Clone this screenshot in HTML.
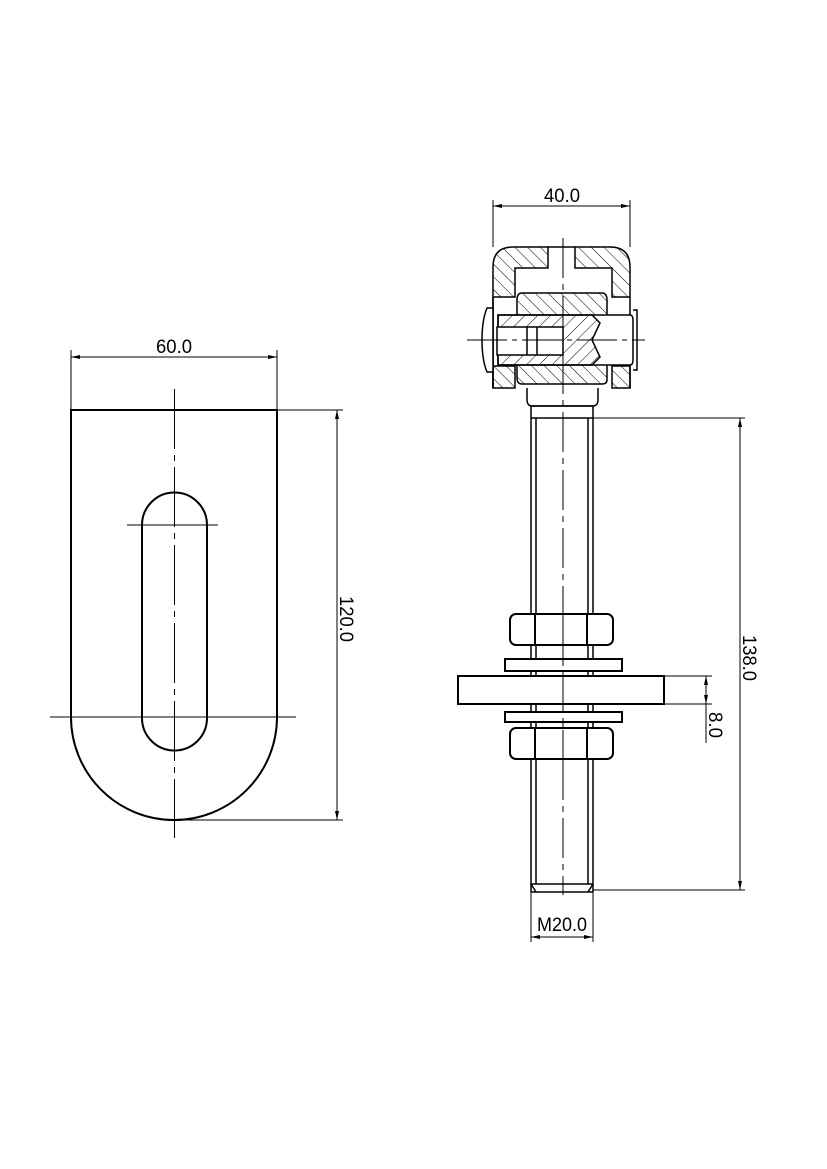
<!DOCTYPE html>
<html><head><meta charset="utf-8"><style>
html,body{margin:0;padding:0;background:#fff;}
svg{display:block;}
text{font-family:"Liberation Sans Narrow","Liberation Sans",sans-serif;font-size:19px;fill:#000;}
</style></head><body>
<svg width="827" height="1169" viewBox="0 0 827 1169" xmlns="http://www.w3.org/2000/svg">
<defs>
<pattern id="h" patternUnits="userSpaceOnUse" width="9" height="9" patternTransform="rotate(-45)">
<line x1="0" y1="0" x2="0" y2="9" stroke="#000" stroke-width="1"/>
</pattern>
<pattern id="h2" patternUnits="userSpaceOnUse" width="9" height="9" patternTransform="rotate(45)">
<line x1="0" y1="0" x2="0" y2="9" stroke="#000" stroke-width="1"/>
</pattern>
</defs>

<!-- LEFT VIEW -->
<g fill="none" stroke="#000">
<path d="M71 410 H277 V717 A103 103 0 0 1 71 717 Z" stroke-width="2"/>
<path d="M142 525 A32.5 32.5 0 0 1 207 525 V718 A32.5 32.5 0 0 1 142 718 Z" stroke-width="2"/>
<line x1="174.5" y1="389" x2="174.5" y2="838" stroke-width="1" stroke-dasharray="60,6,6,6"/>
<line x1="50" y1="717" x2="296" y2="717" stroke-width="1"/>
<line x1="127" y1="525" x2="218" y2="525" stroke-width="1"/>
<line x1="71" y1="350" x2="71" y2="410" stroke-width="1"/>
<line x1="277" y1="350" x2="277" y2="410" stroke-width="1"/>
<line x1="71" y1="357" x2="277" y2="357" stroke-width="1"/>
<line x1="277" y1="410" x2="343" y2="410" stroke-width="1"/>
<line x1="174" y1="820" x2="343" y2="820" stroke-width="1"/>
<line x1="337" y1="410" x2="337" y2="820" stroke-width="1"/>
</g>
<g fill="#000">
<path d="M71 357 l9 -2 v4 z M277 357 l-9 -2 v4 z"/>
<path d="M337 410 l-2 9 h4 z M337 820 l-2 -9 h4 z"/>
</g>
<text x="174" y="353" text-anchor="middle" textLength="36" lengthAdjust="spacingAndGlyphs">60.0</text>
<text transform="translate(340,619) rotate(90)" text-anchor="middle" textLength="46" lengthAdjust="spacingAndGlyphs">120.0</text>

<!-- RIGHT VIEW: head hatched -->
<g stroke="#000" stroke-width="1.5">
<path d="M493 388 V267 Q493 247 513 247 H548 V268 H515 V297 H493 Z" fill="url(#h)"/>
<path d="M575 247 H610 Q630 247 630 267 V297 H612 V268 H575 Z" fill="url(#h)"/>
<line x1="493" y1="297" x2="493" y2="388"/>
<line x1="630" y1="297" x2="630" y2="388"/>
<line x1="548" y1="247" x2="575" y2="247"/>
<rect x="493" y="366" width="22" height="22" fill="url(#h)"/>
<rect x="612" y="366" width="18" height="22" fill="url(#h)"/>
<path d="M522 293 H602 Q607 293 607 300 V380 Q607 384 602 384 H522 Q517 384 517 378 V300 Q517 293 522 293 Z" fill="url(#h)"/>
<path d="M498 315 H630 Q633 315 633 320 V360 Q633 365 630 365 H498 Z" fill="#fff"/>
<path d="M498 315 H592 L600 323 L592 340 L600 357 L592 365 H498 Z" fill="url(#h2)"/>
<rect x="497" y="327" width="66" height="28" fill="#fff"/>
<line x1="527" y1="327" x2="527" y2="355"/>
<line x1="537" y1="327" x2="537" y2="355"/>
<path d="M493 308 H487 Q482 320 482 340 Q482 360 487 372 H493 Z" fill="#fff"/>
<path d="M633 310 H637 V370 H633" fill="none"/>
<path d="M527 388 V400 Q527 405 531 406 H594 Q598 405 598 400 V388" fill="none"/>
<rect x="531" y="406" width="62" height="12" fill="none"/>
</g>
<g fill="none" stroke="#000">
<line x1="467" y1="340" x2="645" y2="340" stroke-width="1" stroke-dasharray="40,5,5,5"/>
<line x1="563" y1="238" x2="563" y2="895" stroke-width="1" stroke-dasharray="40,6,6,6"/>
<g stroke-width="1.5">
<line x1="531" y1="418" x2="531" y2="892"/>
<line x1="593" y1="418" x2="593" y2="892"/>
<line x1="536" y1="418" x2="536" y2="884"/>
<line x1="588" y1="418" x2="588" y2="884"/>
<line x1="531" y1="884" x2="593" y2="884"/>
<line x1="531" y1="892" x2="593" y2="892"/>
<line x1="531" y1="884" x2="536" y2="892"/>
<line x1="593" y1="884" x2="588" y2="892"/>
</g>
<g stroke-width="2" fill="#fff">
<rect x="510" y="614" width="103" height="31" rx="6"/>
<rect x="505" y="659" width="117" height="12"/>
<rect x="458" y="676" width="206" height="28"/>
<rect x="505" y="712" width="117" height="10"/>
<rect x="510" y="728" width="103" height="31" rx="6"/>
<line x1="535" y1="614" x2="535" y2="645"/><line x1="587" y1="614" x2="587" y2="645"/>
<line x1="535" y1="728" x2="535" y2="759"/><line x1="587" y1="728" x2="587" y2="759"/>
</g>
<line x1="563" y1="614" x2="563" y2="760" stroke-width="1" stroke-dasharray="40,6,6,6"/>
<line x1="493" y1="200" x2="493" y2="247" stroke-width="1"/>
<line x1="630" y1="200" x2="630" y2="247" stroke-width="1"/>
<line x1="493" y1="206" x2="630" y2="206" stroke-width="1"/>
<line x1="593" y1="418" x2="745" y2="418" stroke-width="1"/>
<line x1="593" y1="890" x2="745" y2="890" stroke-width="1"/>
<line x1="740" y1="418" x2="740" y2="890" stroke-width="1"/>
<line x1="664" y1="676" x2="712" y2="676" stroke-width="1"/>
<line x1="664" y1="704" x2="712" y2="704" stroke-width="1"/>
<line x1="706" y1="676" x2="706" y2="743" stroke-width="1"/>
<line x1="531" y1="892" x2="531" y2="942" stroke-width="1"/>
<line x1="593" y1="892" x2="593" y2="942" stroke-width="1"/>
<line x1="531" y1="937" x2="593" y2="937" stroke-width="1"/>
</g>
<g fill="#000">
<path d="M493 206 l9 -2 v4 z M630 206 l-9 -2 v4 z"/>
<path d="M740 418 l-2 9 h4 z M740 890 l-2 -9 h4 z"/>
<path d="M706 676 l-2 9 h4 z M706 704 l-2 -9 h4 z"/>
<path d="M531 937 l9 -2 v4 z M593 937 l-9 -2 v4 z"/>
</g>
<text x="562" y="202" text-anchor="middle" textLength="36" lengthAdjust="spacingAndGlyphs">40.0</text>
<text transform="translate(743,658) rotate(90)" text-anchor="middle" textLength="46" lengthAdjust="spacingAndGlyphs">138.0</text>
<text transform="translate(709,725) rotate(90)" text-anchor="middle" textLength="26" lengthAdjust="spacingAndGlyphs">8.0</text>
<text x="562" y="931" text-anchor="middle" textLength="50" lengthAdjust="spacingAndGlyphs">M20.0</text>
</svg>
</body></html>
